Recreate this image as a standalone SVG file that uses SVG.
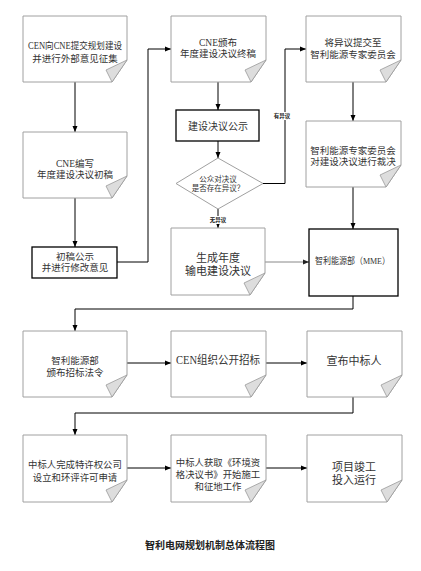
<svg xmlns="http://www.w3.org/2000/svg" width="421" height="571" viewBox="0 0 421 571">
<style>
.pg{fill:#fff;stroke:#a0a0a0;stroke-width:1}
.fd{fill:#ddd;stroke:#999;stroke-width:0.8}
.bx{fill:#fff;stroke:#000;stroke-width:1.3}
.t{font-family:"Liberation Serif","Noto Sans CJK SC",serif;fill:#333;text-anchor:middle;dominant-baseline:central}
.c{fill:none;stroke:#000;stroke-width:1}
.lb{font-family:"Noto Sans CJK SC",sans-serif;font-size:5.5px;font-weight:bold;fill:#222;text-anchor:middle;dominant-baseline:central}
</style>
<defs>
<marker id="ar" markerUnits="userSpaceOnUse" markerWidth="6" markerHeight="6" viewBox="0 0 6 6" refX="6" refY="3" orient="auto">
<path d="M0 0.5 L6 3 L0 5.5 Z" fill="#000"/>
</marker>
<marker id="ag" markerUnits="userSpaceOnUse" markerWidth="6" markerHeight="6" viewBox="0 0 6 6" refX="6" refY="3" orient="auto">
<path d="M0 0.5 L6 3 L0 5.5 Z" fill="#222"/>
</marker>
</defs>
<rect width="421" height="571" fill="#fff"/>
<g id="connectors">
<path class="c" d="M75 82 V132" marker-end="url(#ar)"/>
<path class="c" d="M75 198 V247" marker-end="url(#ar)"/>
<path class="c" d="M117 262 H148 V49 H171" marker-end="url(#ar)"/>
<path class="c" d="M218 82 V110" marker-end="url(#ar)"/>
<path class="c" d="M218 141 V158" marker-end="url(#ar)"/>
<path class="c" d="M263 183.5 H285 V49 H306" marker-end="url(#ar)"/>
<path class="c" d="M218 209 V228" marker-end="url(#ar)"/>
<path class="c" d="M353 82 V121" marker-end="url(#ar)"/>
<path class="c" d="M353 187 V229" marker-end="url(#ar)"/>
<path class="c" d="M265 262 H309" marker-end="url(#ag)" style="stroke:#888"/>
<path class="c" d="M353 296 V309 H75 V331" marker-end="url(#ar)"/>
<path class="c" d="M127 363 H171" marker-end="url(#ar)"/>
<path class="c" d="M266 363 H307" marker-end="url(#ar)"/>
<path class="c" d="M353 397 V413 H75 V435" marker-end="url(#ar)"/>
<path class="c" d="M127 468 H171" marker-end="url(#ar)"/>
<path class="c" d="M266 468 H307" marker-end="url(#ar)"/>
<rect x="275" y="112" width="14" height="8" fill="#fff"/>
<text class="lb" x="282" y="116">有异议</text>
<rect x="209" y="216" width="18" height="8" fill="#fff"/>
<text class="lb" x="218" y="220">无异议</text>
</g>
<g id="n1">
<path class="pg" d="M23 16 H127 V60 L112 82 H23 Z"/><path class="fd" d="M106 70 L127 60 L112 82 Z"/>
<text class="t" x="75" y="46" font-size="9.5" textLength="94" lengthAdjust="spacingAndGlyphs">CEN向CNE提交规划建设</text>
<text class="t" x="75" y="59" font-size="9.5">并进行外部意见征集</text>
</g>
<g id="n2">
<path class="pg" d="M23 132 H127 V176 L112 198 H23 Z"/><path class="fd" d="M106 186 L127 176 L112 198 Z"/>
<text class="t" x="75" y="164" font-size="9.5">CNE编写</text>
<text class="t" x="75" y="175" font-size="9.5">年度建设决议初稿</text>
</g>
<g id="n3">
<rect class="bx" x="32" y="247" width="85" height="31"/>
<text class="t" x="75" y="257" font-size="9.5">初稿公示</text>
<text class="t" x="75" y="268" font-size="9.5">并进行修改意见</text>
</g>
<g id="n4">
<path class="pg" d="M171 16 H266 V60 L251 82 H171 Z"/><path class="fd" d="M245 70 L266 60 L251 82 Z"/>
<text class="t" x="218" y="43" font-size="9.5">CNE颁布</text>
<text class="t" x="218" y="54" font-size="9.5">年度建设决议终稿</text>
</g>
<g id="n5">
<rect class="bx" x="176" y="110" width="83" height="31"/>
<text class="t" x="218" y="126" font-size="10">建设决议公示</text>
</g>
<g id="n6">
<path class="pg" d="M218 158 L263 183.5 L218 209 L176 183.5 Z"/>
<text class="t" x="218" y="179" font-size="7.5">公众对决议</text>
<text class="t" x="218" y="188.5" font-size="7.5">是否存在异议？</text>
</g>
<g id="n7">
<path class="pg" d="M306 16 H401 V60 L386 82 H306 Z"/><path class="fd" d="M380 70 L401 60 L386 82 Z"/>
<text class="t" x="353" y="43" font-size="9.5">将异议提交至</text>
<text class="t" x="353" y="55" font-size="9.5">智利能源专家委员会</text>
</g>
<g id="n8">
<path class="pg" d="M306 121 H401 V165 L386 187 H306 Z"/><path class="fd" d="M380 175 L401 165 L386 187 Z"/>
<text class="t" x="353" y="150.5" font-size="9.5">智利能源专家委员会</text>
<text class="t" x="353" y="161.5" font-size="9.5">对建设决议进行裁决</text>
</g>
<g id="n9">
<path class="pg" d="M171 228 H265 V273 L250 295 H171 Z"/><path class="fd" d="M244 283 L265 273 L250 295 Z"/>
<text class="t" x="218" y="258" font-size="11">生成年度</text>
<text class="t" x="218" y="271" font-size="11">输电建设决议</text>
</g>
<g id="n10">
<rect class="bx" x="309" y="229" width="89" height="67"/>
<text class="t" x="352.5" y="261" font-size="9" textLength="75" lengthAdjust="spacingAndGlyphs">智利能源部（MME）</text>
</g>
<g id="n11">
<path class="pg" d="M23 331 H127 V375 L112 397 H23 Z"/><path class="fd" d="M106 385 L127 375 L112 397 Z"/>
<text class="t" x="75" y="361" font-size="9.5">智利能源部</text>
<text class="t" x="75" y="373" font-size="9.5">颁布招标法令</text>
</g>
<g id="n12">
<path class="pg" d="M171 331 H266 V375 L251 397 H171 Z"/><path class="fd" d="M245 385 L266 375 L251 397 Z"/>
<text class="t" x="218" y="360" font-size="11.5" textLength="84" lengthAdjust="spacingAndGlyphs">CEN组织公开招标</text>
</g>
<g id="n13">
<path class="pg" d="M307 331 H402 V375 L387 397 H307 Z"/><path class="fd" d="M381 385 L402 375 L387 397 Z"/>
<text class="t" x="354" y="361" font-size="11">宣布中标人</text>
</g>
<g id="n14">
<path class="pg" d="M23 435 H127 V480 L112 502 H23 Z"/><path class="fd" d="M106 490 L127 480 L112 502 Z"/>
<text class="t" x="75" y="465" font-size="9.4">中标人完成特许权公司</text>
<text class="t" x="75" y="478" font-size="9.4">设立和环评许可申请</text>
</g>
<g id="n15">
<path class="pg" d="M171 435 H266 V480 L251 502 H171 Z"/><path class="fd" d="M245 490 L266 480 L251 502 Z"/>
<text class="t" x="218" y="463" font-size="9.4">中标人获取《环境资</text>
<text class="t" x="218" y="475" font-size="9.4">格决议书》开始施工</text>
<text class="t" x="218" y="486.5" font-size="9.4">和征地工作</text>
</g>
<g id="n16">
<path class="pg" d="M307 435 H402 V480 L387 502 H307 Z"/><path class="fd" d="M381 490 L402 480 L387 502 Z"/>
<text class="t" x="354" y="467" font-size="11">项目竣工</text>
<text class="t" x="354" y="480" font-size="11">投入运行</text>
</g>
<text x="210" y="544" font-family="Noto Sans CJK SC,sans-serif" font-size="10" font-weight="bold" fill="#222" text-anchor="middle" dominant-baseline="central">智利电网规划机制总体流程图</text>
</svg>
